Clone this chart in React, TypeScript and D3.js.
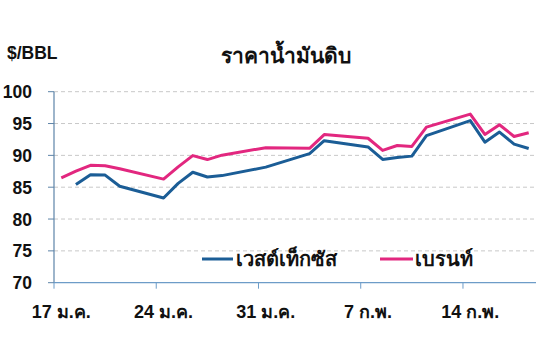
import React from "react";
import * as d3 from "d3";

const dates = [
  "2022-01-17", "2022-01-18", "2022-01-19", "2022-01-20", "2022-01-21",
  "2022-01-24", "2022-01-25", "2022-01-26", "2022-01-27", "2022-01-28",
  "2022-01-31", "2022-02-03", "2022-02-04",
  "2022-02-07", "2022-02-08", "2022-02-09", "2022-02-10", "2022-02-11",
  "2022-02-14", "2022-02-15", "2022-02-16", "2022-02-17", "2022-02-18",
];
const wti: (number | null)[] = [
  null, 85.43, 86.96, 86.9, 85.14,
  83.31, 85.6, 87.35, 86.61, 86.82,
  88.15, 90.27, 92.31,
  91.32, 89.36, 89.66, 89.88, 93.1,
  95.46, 92.07, 93.66, 91.76, 91.07,
];
const brent: (number | null)[] = [
  86.48, 87.51, 88.44, 88.38, 87.89,
  86.27, 88.2, 89.96, 89.34, 90.03,
  91.21, 91.11, 93.27,
  92.69, 90.78, 91.55, 91.41, 94.44,
  96.48, 93.28, 94.81, 92.97, 93.54,
];
const yTicks = [70, 75, 80, 85, 90, 95, 100];
const xTickDates = ["2022-01-17", "2022-01-24", "2022-01-31", "2022-02-07", "2022-02-14"];
const xTickLabels = ["17 ม.ค.", "24 ม.ค.", "31 ม.ค.", "7 ก.พ.", "14 ก.พ."];
const seriesNames = ["เวสต์เท็กซัส", "เบรนท์"];
const title = "ราคาน้ำมันดิบ";
const unitLabel = "$/BBL";

const W = 549;
const H = 359;
const FONT = "'Liberation Sans', Arial, 'Noto Sans', sans-serif";
const colors = ["#1b5d96", "#e2277f"];

export default function App() {
  const parse = (s: string) => new Date(s + "T00:00:00Z");
  const x = d3
    .scaleUtc()
    .domain([parse("2022-01-17"), parse("2022-02-19")])
    .range([54, 536]);
  const y = d3.scaleLinear().domain([70, 100]).range([282.7, 91.7]);
  const half = 12 * 3600 * 1000;
  const mid = (s: string) => new Date(parse(s).getTime() + half);

  const mk = (vals: (number | null)[]) => {
    const pts = dates
      .map((d, i) => ({ t: mid(d), v: vals[i] }))
      .filter((p) => p.v != null) as { t: Date; v: number }[];
    return d3
      .line<{ t: Date; v: number }>()
      .x((p) => x(p.t))
      .y((p) => y(p.v))(pts) as string;
  };

  const series = [wti, brent];

  return (
    <svg
      width={W}
      height={H}
      style={{ position: "absolute", left: 0, top: 0, background: "#fff" }}
      fontFamily={FONT}
    >
      <rect width={W} height={H} fill="#fff" />
      <text x={7} y={59} fontSize={17.5} fontWeight="bold" fill="#111">
        {unitLabel}
      </text>
      <text x={286} y={63} fontSize={21} fontWeight="bold" textAnchor="middle" fill="#111">
        {title}
      </text>
      {yTicks.slice(1).map((t) => (
        <line
          key={"g" + t}
          x1={54}
          x2={536}
          y1={y(t)}
          y2={y(t)}
          stroke="#c8c8c8"
          strokeWidth={1}
          strokeDasharray="4,3"
        />
      ))}
      {yTicks.map((t) => (
        <g key={"y" + t}>
          <line x1={48} x2={54} y1={y(t)} y2={y(t)} stroke="#5d84a8" strokeWidth={1} />
          <text
            x={32}
            y={y(t) + 6.5}
            fontSize={17.5}
            fontWeight="bold"
            textAnchor="end"
            fill="#111"
          >
            {t}
          </text>
        </g>
      ))}
      <line x1={54} x2={54} y1={y(100)} y2={y(70)} stroke="#5d84a8" strokeWidth={1.2} />
      <line x1={54} x2={536} y1={y(70)} y2={y(70)} stroke="#6d9cc8" strokeWidth={1.2} />
      {xTickDates.map((d, i) => (
        <g key={"x" + d}>
          <line
            x1={x(parse(d))}
            x2={x(parse(d))}
            y1={y(70)}
            y2={y(70) + 6}
            stroke="#6d9cc8"
            strokeWidth={1}
          />
          <text
            x={x(mid(d))}
            y={318}
            fontSize={18}
            fontWeight="bold"
            textAnchor="middle"
            fill="#111"
          >
            {xTickLabels[i]}
          </text>
        </g>
      ))}
      {series.map((s, i) => (
        <path
          key={"s" + i}
          d={mk(s)}
          fill="none"
          stroke={colors[i]}
          strokeWidth={3}
          strokeLinejoin="round"
        />
      ))}
      <g>
        <line x1={202} x2={233} y1={259} y2={259} stroke={colors[0]} strokeWidth={3} />
        <text x={236} y={266} fontSize={20} fontWeight="bold" fill="#111">
          {seriesNames[0]}
        </text>
        <line x1={380} x2={413} y1={259} y2={259} stroke={colors[1]} strokeWidth={3} />
        <text x={415} y={266} fontSize={20} fontWeight="bold" fill="#111">
          {seriesNames[1]}
        </text>
      </g>
    </svg>
  );
}
